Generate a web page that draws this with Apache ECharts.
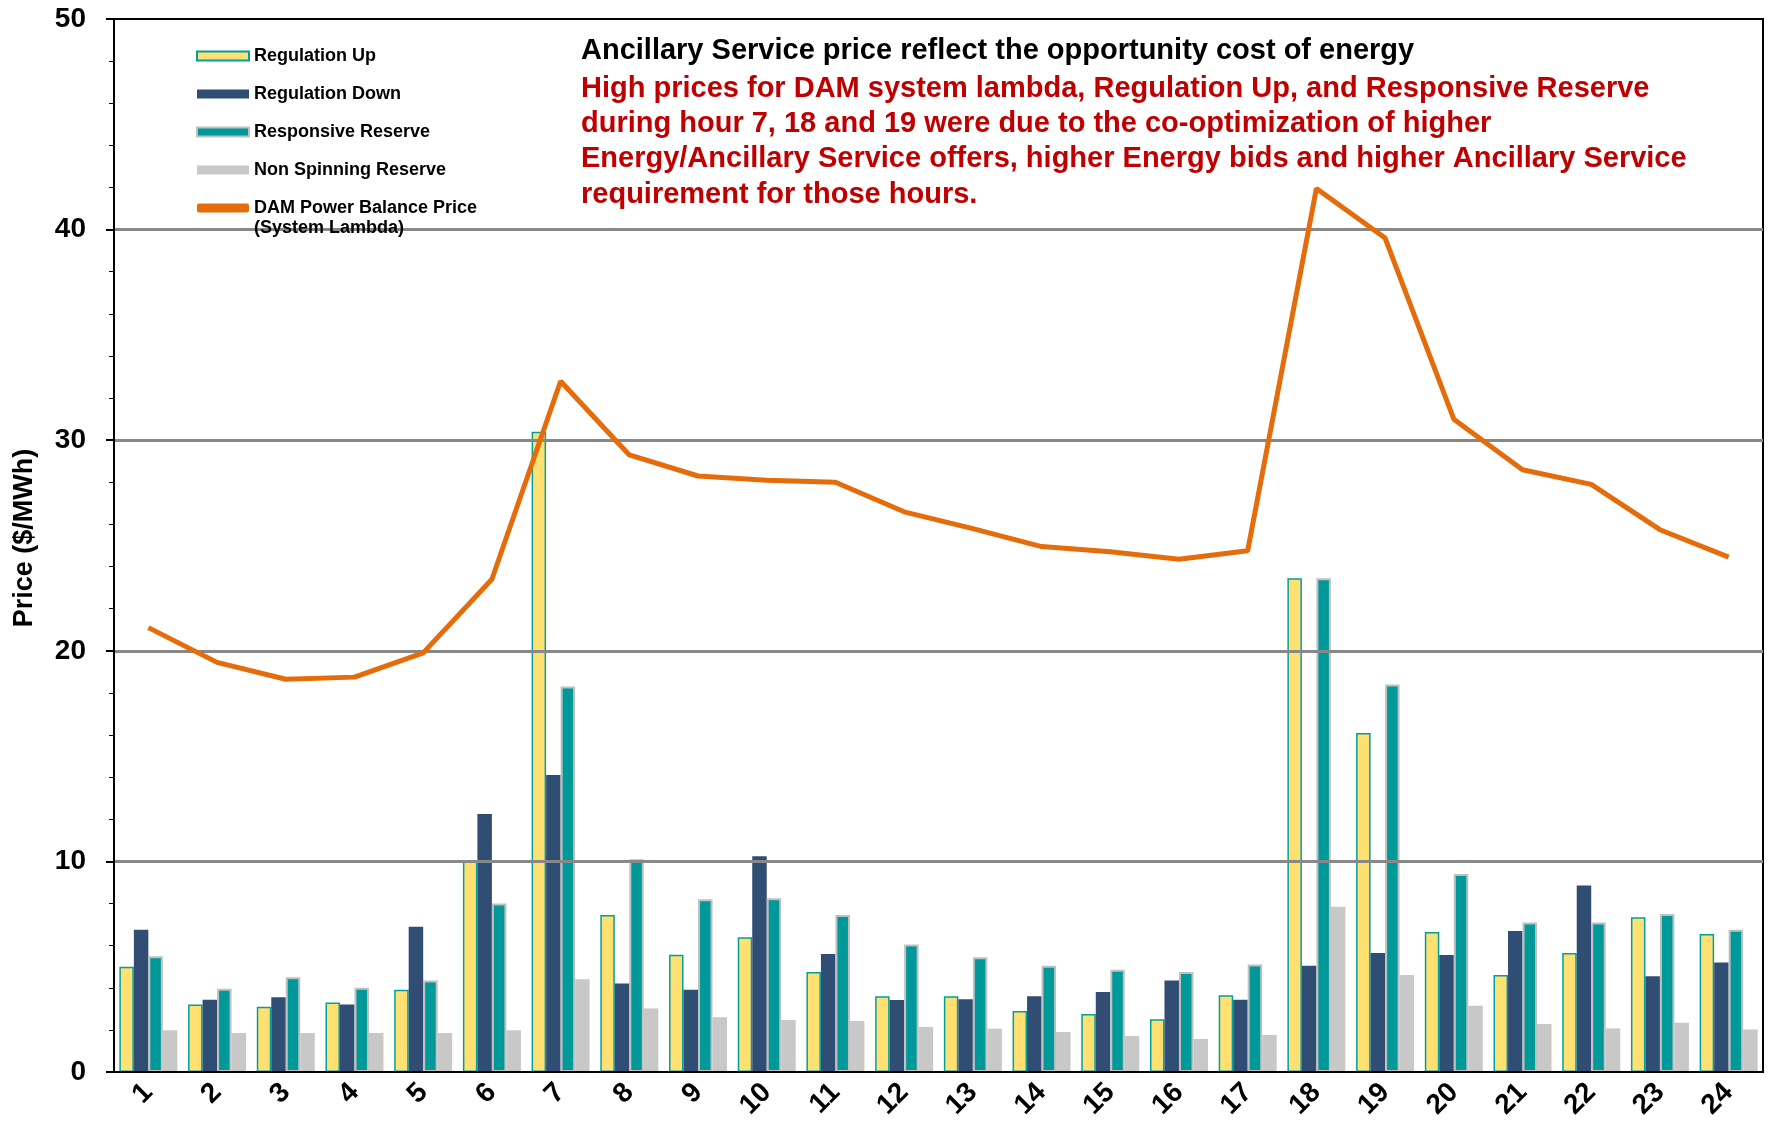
<!DOCTYPE html>
<html style="height: 100%">
<head>
<meta charset="utf-8">
<script src="https://cdn.jsdelivr.net/npm/echarts@6/dist/echarts.min.js"></script>
</head>
<body style="height: 100%; margin: 0; background: #fff">
<div id="container" style="width: 1775px; height: 1128px"></div>
<script type="text/javascript">
var hours = ['1','2','3','4','5','6','7','8','9','10','11','12','13','14','15','16','17','18','19','20','21','22','23','24'];
var regUp = [5.0, 3.2, 3.1, 3.3, 3.9, 10.0, 30.4, 7.45, 5.57, 6.4, 4.75, 3.6, 3.6, 2.9, 2.75, 2.5, 3.65, 23.45, 16.1, 6.65, 4.6, 5.65, 7.35, 6.55];
var regDown = [6.75, 3.43, 3.55, 3.2, 6.9, 12.25, 14.1, 4.2, 3.9, 10.25, 5.6, 3.42, 3.45, 3.6, 3.8, 4.35, 3.43, 5.05, 5.65, 5.55, 6.7, 8.85, 4.55, 5.2];
var respRes = [5.5, 3.95, 4.5, 4.0, 4.35, 8.0, 18.3, 10.1, 8.2, 8.25, 7.45, 6.05, 5.45, 5.05, 4.85, 4.75, 5.1, 23.45, 18.4, 9.4, 7.1, 7.1, 7.5, 6.75];
var nonSpin = [1.98, 1.85, 1.85, 1.85, 1.85, 1.98, 4.4, 3.02, 2.6, 2.47, 2.42, 2.14, 2.06, 1.9, 1.71, 1.57, 1.76, 7.85, 4.6, 3.15, 2.28, 2.07, 2.34, 2.02];
var lambda = [21.1, 19.45, 18.65, 18.75, 19.9, 23.4, 32.8, 29.3, 28.3, 28.1, 28.0, 26.6, 25.8, 24.95, 24.7, 24.35, 24.75, 41.95, 39.6, 31.0, 28.6, 27.9, 25.75, 24.45];

var dom = document.getElementById("container");
var myChart = echarts.init(dom);
var font = '"Liberation Sans", Arial, sans-serif';

var option = {
    animation: false,
    textStyle: { fontFamily: font },
    grid: {
        left: 114, right: 12, top: 19, bottom: 56,
        show: true, borderColor: '#000', borderWidth: 2
    },
    legend: {
        orient: 'vertical',
        left: 191, top: 41,
        itemWidth: 52, itemHeight: 9,
        itemGap: 18,
        textStyle: { fontSize: 18, fontWeight: 'bold', color: '#000', lineHeight: 20, fontFamily: font },
        data: [
            { name: 'Regulation Up', icon: 'rect' },
            { name: 'Regulation Down', icon: 'rect' },
            { name: 'Responsive Reserve', icon: 'rect' },
            { name: 'Non Spinning Reserve', icon: 'rect' },
            { name: 'DAM Power Balance Price', icon: 'roundRect' }
        ]
    },
    graphic: [
        { type: 'text', left: 254, top: 219, z: 10,
          style: { text: '(System Lambda)', font: 'bold 18px ' + font, fill: '#000' } },
        { type: 'text', x: 25, y: 538, rotation: Math.PI / 2, z: 10,
          style: { text: 'Price ($/MWh)', font: 'bold 27px ' + font, fill: '#000', align: 'center', verticalAlign: 'middle' } },
        { type: 'text', left: 581, top: 36, z: 10,
          style: { text: 'Ancillary Service price reflect the opportunity cost of energy', font: 'bold 29px ' + font, fill: '#000' } },
        { type: 'text', left: 581, top: 71, z: 10,
          style: { text: 'High prices for DAM system lambda, Regulation Up, and Responsive Reserve\nduring hour 7, 18 and 19 were due to the co-optimization of higher\nEnergy/Ancillary Service offers, higher Energy bids and higher Ancillary Service\nrequirement for those hours.',
                   font: 'bold 29px ' + font, fill: '#C00000', lineHeight: 35.3 } }
    ],
    xAxis: {
        type: 'category',
        data: hours,
        z: 3,
        axisLine: { lineStyle: { color: '#000', width: 2 } },
        axisTick: { length: 8, lineStyle: { color: '#000', width: 2 } },
        axisLabel: { rotate: 45, fontSize: 28, fontWeight: 'bold', color: '#000', margin: 16 }
    },
    yAxis: {
        type: 'value',
        min: 0, max: 50, interval: 10,
        z: 3,
        axisLine: { show: true, lineStyle: { color: '#000', width: 2 } },
        axisTick: { show: true, length: 8, lineStyle: { color: '#000', width: 2 } },
        minorTick: { show: true, splitNumber: 5, length: 5, lineStyle: { color: '#000', width: 1 } },
        axisLabel: { fontSize: 28, fontWeight: 'bold', color: '#000', margin: 28 },
        splitLine: { showMinLine: false, showMaxLine: false, lineStyle: { color: '#888', width: 3 } }
    },
    series: [
        { name: 'Regulation Up', type: 'bar', data: regUp, barWidth: 14.5, barGap: '0%',
          itemStyle: { color: '#FFE070', borderColor: '#00A0A0', borderWidth: 1.5 } },
        { name: 'Regulation Down', type: 'bar', data: regDown, barWidth: 14.5, barGap: '0%',
          itemStyle: { color: '#304E73' } },
        { name: 'Responsive Reserve', type: 'bar', data: respRes, barWidth: 14.5, barGap: '0%',
          itemStyle: { color: '#009999', borderColor: '#C0C0C0', borderWidth: 2 } },
        { name: 'Non Spinning Reserve', type: 'bar', data: nonSpin, barWidth: 14.5, barGap: '0%',
          itemStyle: { color: '#C8C8C8' } },
        { name: 'DAM Power Balance Price', type: 'line', data: lambda, z: 5,
          symbol: 'none', lineStyle: { color: '#E46C0A', width: 5 },
          itemStyle: { color: '#E46C0A' } }
    ]
};

myChart.setOption(option, true);
</script>
</body>
</html>
